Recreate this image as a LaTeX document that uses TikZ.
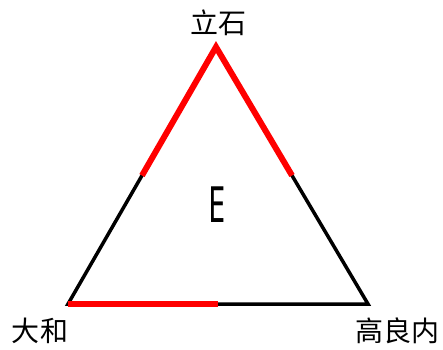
\documentclass[tikz,border=0pt]{standalone}
\usepackage{fontspec}
\newfontfamily\cjk{Noto Sans CJK SC}
\setsansfont{Noto Sans}
\usetikzlibrary{calc}
\tikzset{
  edgeline/.style={draw=black,line width=3.5pt,line cap=butt},
  redline/.style={draw=red,line width=6pt,line join=miter,line cap=butt},
  vlabel/.style={font=\cjk\fontsize{28}{30}\selectfont,inner sep=0pt,anchor=center}
}
\begin{document}
\begin{tikzpicture}[x=1pt,y=-1pt]
\useasboundingbox (0,0) rectangle (443,349);
\coordinate (T) at (216,47);
\coordinate (L) at (68,304);
\coordinate (R) at (368,304);
\coordinate (mTL) at ($(T)!0.5!(L)$);
\coordinate (mTR) at ($(T)!0.5!(R)$);
\coordinate (mLR) at ($(L)!0.5!(R)$);
\draw[edgeline] (T) -- (L) -- (R) -- cycle;
\draw[redline] (mTL) -- (T) -- (mTR);
\draw[redline] (L) -- (mLR);
\node[vlabel] (t) at (218,23) {立石};
\node[vlabel] (l) at (40,331) {大和};
\node[vlabel] (r) at (397,331) {高良内};
\node[inner sep=0pt] (e) at (217.5,205) {\scalebox{0.62}[1]{\sffamily\fontsize{50}{50}\selectfont E}};
\end{tikzpicture}
\end{document}
